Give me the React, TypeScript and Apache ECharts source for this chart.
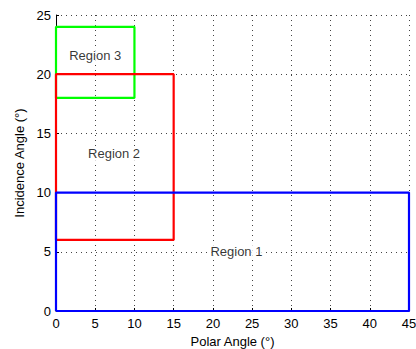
import React, { useEffect, useRef } from "react";
import * as echarts from "echarts";

const xTicks = [0, 5, 10, 15, 20, 25, 30, 35, 40, 45];
const yTicks = [0, 5, 10, 15, 20, 25];

// Region rectangles: [xMin, xMax, yMin, yMax]
const regionNames = ["Region 1", "Region 2", "Region 3"];
const regionBounds = [
  [0, 45, 0, 10],
  [0, 15, 6, 20],
  [0, 10, 18, 24],
];
const regionColors = ["#0000ff", "#ff0000", "#00ff00"];
// label anchor points (data coords)
const labelPoints = [
  [23, 5],
  [7.4, 13.3],
  [5, 21.6],
];

const FONT = "Liberation Sans";

export default function App() {
  const ref = useRef<HTMLDivElement>(null);
  useEffect(() => {
    const chart = echarts.init(ref.current!, null, { renderer: "svg" });
    const rectSeries = regionBounds.map((b, i) => ({
      type: "line",
      name: regionNames[i],
      data: [
        [b[0], b[2]],
        [b[1], b[2]],
        [b[1], b[3]],
        [b[0], b[3]],
        [b[0], b[2]],
      ],
      showSymbol: false,
      symbol: "none",
      lineStyle: { color: regionColors[i], width: 2.2 },
      z: 3 + (2 - i),
      silent: true,
    }));
    const textSeries = {
      type: "scatter",
      data: labelPoints.map((p, i) => ({ value: p, name: regionNames[i] })),
      symbolSize: 1,
      itemStyle: { color: "rgba(0,0,0,0)" },
      label: {
        show: true,
        position: "inside",
        formatter: (p: any) => p.name,
        color: "#000",
        fontSize: 13,
        fontFamily: FONT,
        backgroundColor: "#fff",
        padding: [1, 2],
      },
      z: 10,
    };
    const nameStyle = { color: "#000", fontSize: 13, fontFamily: FONT };
    chart.setOption({
      animation: false,
      grid: { left: 56, right: 7, top: 15, bottom: 38, outerBoundsMode: "none", containLabel: false },
      xAxis: {
        type: "value",
        min: 0,
        max: 45,
        interval: 5,
        name: "Polar Angle (°)",
        nameLocation: "middle",
        nameGap: 22,
        nameTextStyle: nameStyle,
        axisLine: { show: true, lineStyle: { color: "#000", width: 1 } },
        axisTick: { show: true, inside: true, length: 3, lineStyle: { color: "#000" } },
        axisLabel: {
          color: "#000",
          fontSize: 13,
          fontFamily: FONT,
          margin: 6,
          formatter: (v: number) => (xTicks.includes(v) ? String(v) : ""),
        },
        splitLine: { show: true, lineStyle: { type: [1, 4], color: "#444", width: 1 } },
      },
      yAxis: {
        type: "value",
        min: 0,
        max: 25,
        interval: 5,
        name: "Incidence Angle (°)",
        nameLocation: "middle",
        nameGap: 29,
        nameTextStyle: nameStyle,
        axisLine: { show: true, lineStyle: { color: "#000", width: 1 } },
        axisTick: { show: true, inside: true, length: 3, lineStyle: { color: "#000" } },
        axisLabel: {
          color: "#000",
          fontSize: 13,
          fontFamily: FONT,
          margin: 5,
          formatter: (v: number) => (yTicks.includes(v) ? String(v) : ""),
        },
        splitLine: { show: true, lineStyle: { type: [1, 4], color: "#444", width: 1 } },
      },
      series: [...rectSeries, textSeries],
    });
    return () => chart.dispose();
  }, []);
  return <div ref={ref} style={{ width: 416, height: 349, position: "absolute", left: 0, top: 0, background: "#fff" }} />;
}
